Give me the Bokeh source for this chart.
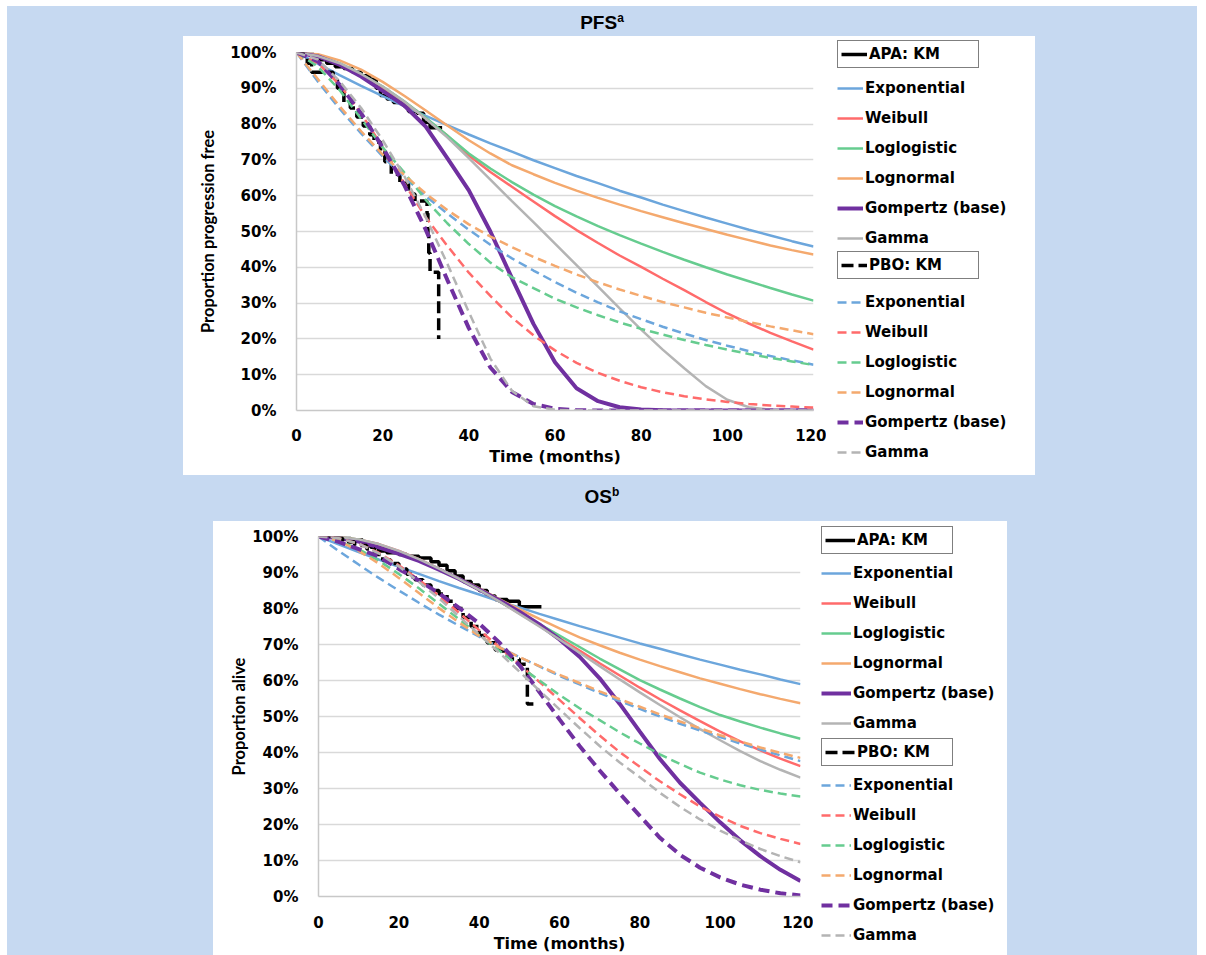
from bokeh.plotting import figure
from bokeh.models import (Legend, LegendItem, FixedTicker, PrintfTickFormatter,
                          Range1d, Div)
from bokeh.layouts import column, row
from bokeh.embed import file_html
from bokeh.resources import INLINE

# ---------------- data ----------------
months = [0, 5, 10, 15, 20, 25, 30, 35, 40, 45, 50, 55, 60, 65, 70, 75, 80, 85,
          90, 95, 100, 105, 110, 115, 120]
x_ticks = [0, 20, 40, 60, 80, 100, 120]
y_ticks = [0, 10, 20, 30, 40, 50, 60, 70, 80, 90, 100]

model_names = ["Exponential", "Weibull", "Loglogistic", "Lognormal", "Gompertz (base)", "Gamma"]

# PFS - apalutamide (APA) fitted curves, % progression free
pfs_apa_exp = [100, 96.8, 93.7, 90.7, 87.8, 85.0, 82.3, 79.7, 77.1, 74.6, 72.3, 69.9, 67.7,
               65.5, 63.5, 61.4, 59.5, 57.5, 55.7, 53.9, 52.2, 50.5, 48.9, 47.3, 45.8]
pfs_apa_weib = [100, 98.8, 96.6, 93.6, 90.0, 86.2, 81.6, 76.8, 71.2, 66.6, 62.5, 58.4, 54.3,
                50.4, 46.8, 43.3, 40.1, 36.8, 33.6, 30.3, 27.1, 24.3, 21.7, 19.3, 17.0]
pfs_apa_llog = [100, 99.0, 97.0, 94.0, 90.5, 86.4, 81.8, 76.8, 71.8, 67.6, 63.8, 60.3, 57.1,
                54.2, 51.5, 49.0, 46.6, 44.3, 42.1, 40.0, 38.0, 36.1, 34.2, 32.4, 30.7]
pfs_apa_lnorm = [100, 99.5, 97.8, 95.2, 91.8, 87.9, 83.8, 79.6, 75.5, 71.8, 68.5, 66.0, 63.6,
                 61.4, 59.4, 57.5, 55.7, 54.0, 52.3, 50.7, 49.1, 47.6, 46.1, 44.8, 43.6]
pfs_apa_gomp = [100, 98.9, 96.6, 93.3, 89.3, 85.2, 79.3, 70.5, 61.5, 50.0, 37.0, 24.2, 13.5,
                6.2, 2.6, 0.9, 0.3, 0.1, 0, 0, 0, 0, 0, 0, 0]
pfs_apa_gamma = [100, 99.0, 97.0, 94.0, 90.5, 86.3, 81.5, 76.3, 70.5, 64.5, 58.5, 52.6, 46.6,
                 40.6, 34.6, 28.5, 22.6, 17.0, 11.8, 6.8, 3.0, 0.9, 0.2, 0, 0]

# PFS - placebo (PBO) fitted curves
pfs_pbo_exp = [100, 91.8, 84.3, 77.4, 71.0, 65.2, 59.9, 55.0, 50.5, 46.3, 42.5, 39.1, 35.9,
               32.9, 30.2, 27.7, 25.5, 23.4, 21.5, 19.7, 18.1, 16.6, 15.2, 14.0, 12.8]
pfs_pbo_weib = [100, 97.0, 91.0, 83.0, 73.5, 63.5, 54.0, 46.0, 38.5, 32.0, 26.0, 21.0, 16.8,
                13.3, 10.5, 8.3, 6.5, 5.1, 4.0, 3.1, 2.4, 1.8, 1.4, 1.1, 0.8]
pfs_pbo_llog = [100, 96.0, 89.5, 81.5, 73.5, 66.5, 58.8, 52.3, 46.5, 41.3, 37.2, 34.2, 31.2,
                28.8, 26.6, 24.6, 22.8, 21.2, 19.7, 18.3, 17.0, 15.8, 14.7, 13.7, 12.7]
pfs_pbo_lnorm = [100, 92.5, 85.0, 78.0, 71.5, 65.8, 60.6, 56.0, 52.0, 48.6, 45.6, 42.9, 40.4,
                 38.0, 35.8, 33.8, 32.0, 30.3, 28.8, 27.3, 26.0, 24.7, 23.5, 22.4, 21.3]
pfs_pbo_gomp = [100, 97.5, 91.0, 83.0, 73.5, 63.0, 50.5, 36.5, 23.0, 12.0, 5.2, 1.8, 0.5,
                0.1, 0, 0, 0, 0, 0, 0, 0, 0, 0, 0, 0]
pfs_pbo_gamma = [100, 98.0, 92.0, 84.5, 75.5, 65.5, 54.0, 41.0, 27.5, 14.5, 5.5, 1.2, 0.2,
                 0, 0, 0, 0, 0, 0, 0, 0, 0, 0, 0, 0]

# PFS Kaplan-Meier
pfs_apa_km_t = [0, 2, 4, 5.5, 7, 9, 11, 13, 15, 17, 18.5, 19.5, 21, 22.5, 25, 26, 28, 29.5, 31, 33.8]
pfs_apa_km_s = [100, 99.5, 99, 98, 97, 96, 95.5, 94.5, 93.5, 92.5, 90, 88, 87, 86, 85, 83.5,
                83, 80.5, 79, 79]
pfs_pbo_km_t = [0, 1.5, 2.5, 3.5, 8.5, 9.5, 11, 12.5, 14, 15.5, 17, 18, 19.5, 20.5, 22, 24,
                26, 27.5, 30.3, 30.5, 30.7, 31, 33]
pfs_pbo_km_s = [100, 98.5, 97, 94.5, 92.5, 90, 86, 84.5, 82, 79.5, 77, 75, 72, 69.5, 66,
                63.5, 60.5, 58.5, 55, 49, 44, 38.6, 20]

# OS - APA fitted curves, % alive
os_apa_exp = [100, 97.8, 95.7, 93.6, 91.6, 89.6, 87.6, 85.7, 83.9, 82.0, 80.3, 78.5, 76.8,
              75.1, 73.5, 71.9, 70.3, 68.8, 67.3, 65.8, 64.4, 63.0, 61.7, 60.3, 59.0]
os_apa_weib = [100, 99.8, 99.2, 97.9, 96.0, 93.7, 91.1, 88.2, 85.2, 82.0, 78.6, 75.2, 71.8,
               68.3, 64.8, 61.4, 58.0, 54.8, 51.7, 48.7, 45.8, 43.1, 40.6, 38.3, 36.2]
os_apa_llog = [100, 99.8, 99.2, 97.8, 95.8, 93.5, 91.0, 88.2, 85.2, 82.0, 78.8, 75.7, 72.5,
               69.3, 66.1, 63.1, 60.1, 57.5, 55.0, 52.6, 50.4, 48.6, 46.9, 45.3, 43.8]
os_apa_lnorm = [100, 99.8, 99.0, 97.5, 95.5, 93.3, 91.0, 88.4, 85.6, 82.6, 79.8, 77.1, 74.5,
                72.0, 69.8, 67.7, 65.8, 64.0, 62.3, 60.6, 59.1, 57.6, 56.2, 54.9, 53.7]
os_apa_gomp = [100, 99.6, 98.6, 97.0, 95.2, 93.2, 90.8, 88.2, 85.3, 82.3, 79.1, 75.6, 71.4,
               66.6, 60.6, 53.5, 45.8, 38.2, 31.6, 26.0, 20.6, 15.6, 11.2, 7.4, 4.3]
os_apa_gamma = [100, 99.8, 99.2, 97.9, 96.0, 93.7, 91.1, 88.2, 85.2, 82.0, 78.5, 75.0, 71.4,
                67.7, 64.0, 60.3, 56.7, 53.2, 49.8, 46.5, 43.4, 40.4, 37.6, 35.2, 33.0]

# OS - PBO fitted curves
os_pbo_exp = [100, 96.0, 92.2, 88.5, 85.0, 81.6, 78.3, 75.2, 72.2, 69.3, 66.5, 63.9, 61.3,
              58.9, 56.5, 54.3, 52.1, 50.0, 48.0, 46.1, 44.3, 42.5, 40.8, 39.2, 37.6]
os_pbo_weib = [100, 99.5, 98.0, 95.5, 92.0, 88.0, 83.5, 78.8, 74.0, 69.3, 64.5, 59.6, 54.6,
               49.6, 44.7, 40.1, 36.0, 32.0, 28.4, 25.0, 22.2, 19.6, 17.6, 16.0, 14.6]
os_pbo_llog = [100, 98.8, 96.5, 93.3, 89.6, 85.6, 81.3, 77.0, 72.6, 68.3, 64.0, 60.0, 56.0,
               52.3, 49.0, 45.6, 42.5, 39.5, 36.8, 34.4, 32.5, 30.9, 29.6, 28.6, 27.8]
os_pbo_lnorm = [100, 98.8, 96.0, 92.5, 88.5, 84.3, 80.1, 76.1, 72.4, 69.2, 66.5, 64.0, 61.6,
                59.3, 57.0, 54.8, 52.7, 50.6, 48.6, 46.7, 44.8, 43.1, 41.4, 39.9, 38.5]
os_pbo_gomp = [100, 98.5, 96.5, 94.5, 91.0, 87.8, 84.2, 80.2, 75.8, 70.6, 64.3, 56.8, 49.2,
               41.8, 35.0, 28.6, 22.4, 16.3, 11.6, 8.0, 5.3, 3.3, 1.9, 0.9, 0.3]
os_pbo_gamma = [100, 99.5, 98.0, 95.3, 91.7, 87.4, 82.8, 77.8, 72.8, 67.7, 62.5, 57.2, 52.0,
                46.8, 41.8, 37.2, 33.1, 28.8, 24.9, 21.4, 18.3, 15.6, 13.2, 11.2, 9.5]

# OS Kaplan-Meier
os_apa_km_t = [0, 5, 8, 11, 13, 15, 17, 20, 22, 25, 28, 30, 32, 34, 36, 38, 40, 42, 44, 47, 50, 55.5]
os_apa_km_s = [100, 99.5, 99, 98, 97, 96, 95.5, 95, 94.5, 94, 93, 92, 90.5, 89, 87.5, 86.5,
               85, 83.5, 82.5, 82, 80.5, 80.5]
os_pbo_km_t = [0, 3, 6, 9, 12, 14, 16, 18, 20, 22, 24, 26, 28, 30, 32, 34, 36, 38, 40, 42,
               44, 46, 48, 50, 52, 53.5]
os_pbo_km_s = [100, 99.5, 98.5, 97.5, 96.5, 95, 93.5, 92.5, 91, 89.5, 88, 86.5, 85, 84, 82,
               80, 77.5, 75, 72.5, 70.5, 68.5, 67, 66, 64.5, 53.5, 53.5]

# ---------------- styling ----------------
COLORS = ["#6CA6DC", "#FF6B6B", "#66CC8F", "#F4A96E", "#7030A0", "#B4B4B4"]
BG = "#C6D9F1"
TICK_FONT = "DejaVu Sans"

KM_W = 3.5
KM_DASH = "12 5"
FIT_W = 2.5
GOMP_W = 4
FIT_DASH = "9 5"
GOMP_DASH = "11 6"


def add_series(p, apa_fits, pbo_fits, apa_km, pbo_km):
    r_apa_km = p.step(apa_km[0], apa_km[1], mode="after", line_color="black", line_width=KM_W)
    apa_r = []
    for vals, c, name in zip(apa_fits, COLORS, model_names):
        w = GOMP_W if name.startswith("Gompertz") else FIT_W
        apa_r.append(p.line(months, vals, line_color=c, line_width=w))
    r_pbo_km = p.step(pbo_km[0], pbo_km[1], mode="after", line_color="black",
                      line_width=KM_W, line_dash=KM_DASH)
    pbo_r = []
    for vals, c, name in zip(pbo_fits, COLORS, model_names):
        if name.startswith("Gompertz"):
            pbo_r.append(p.line(months, vals, line_color=c, line_width=GOMP_W,
                                line_dash=GOMP_DASH))
        else:
            pbo_r.append(p.line(months, vals, line_color=c, line_width=FIT_W,
                                line_dash=FIT_DASH))
    return r_apa_km, apa_r, r_pbo_km, pbo_r


def make_chart(series, ylabel, W, H, bt, bb, ylab_standoff, xlab_standoff, tick_standoff):
    p = figure(width=W, height=H, x_range=Range1d(0, 120), y_range=Range1d(0, 100),
               output_backend="svg", toolbar_location=None,
               min_border_left=105, min_border_right=13, min_border_top=bt,
               min_border_bottom=bb)
    p.frame_align = False
    p.outline_line_color = None
    p.background_fill_color = "white"
    p.border_fill_color = "white"
    p.xgrid.visible = False
    p.ygrid.grid_line_color = "#D9D9D9"
    p.ygrid.grid_line_width = 1.5
    p.xaxis.ticker = FixedTicker(ticks=x_ticks)
    p.yaxis.ticker = FixedTicker(ticks=y_ticks)
    p.yaxis.formatter = PrintfTickFormatter(format="%d%%")
    for ax in (p.xaxis[0], p.yaxis[0]):
        ax.axis_line_color = "#C8C8C8"
        ax.axis_line_width = 1.5
        ax.major_tick_line_color = None
        ax.minor_tick_line_color = None
        ax.major_tick_out = 0
        ax.major_tick_in = 0
        ax.minor_tick_out = 0
        ax.major_label_text_font = TICK_FONT
        ax.major_label_text_font_style = "bold"
        ax.major_label_text_font_size = "15px"
        ax.major_label_text_color = "black"
        ax.axis_label_text_font_style = "bold"
        ax.axis_label_text_color = "black"
    p.yaxis.major_label_standoff = 20
    p.xaxis.major_label_standoff = tick_standoff
    p.xaxis.axis_label = "Time (months)"
    p.xaxis.axis_label_text_font = TICK_FONT
    p.xaxis.axis_label_text_font_size = "16px"
    p.xaxis.axis_label_standoff = xlab_standoff
    p.yaxis.axis_label = ylabel
    p.yaxis.axis_label_text_font = "Lato"
    p.yaxis.axis_label_text_font_size = "16.5px"
    p.yaxis.axis_label_standoff = ylab_standoff
    add_series(p, *series)
    return p


def make_legend_panel(series, W, H, leg):
    """Legend area to the right of a chart. The same series are drawn here only
    to provide legend samples; the view range excludes them, so only the legend shows."""
    q = figure(width=W, height=H, x_range=Range1d(-20, -10), y_range=Range1d(-20, -10),
               output_backend="svg", toolbar_location=None,
               x_axis_location=None, y_axis_location=None, min_border=0)
    q.frame_align = False
    q.outline_line_color = None
    q.background_fill_alpha = 0
    q.border_fill_color = "white"
    q.grid.visible = False
    r_apa_km, apa_r, r_pbo_km, pbo_r = add_series(q, *series)
    common = dict(label_text_font=TICK_FONT, label_text_font_style="bold",
                  label_text_font_size="15px", label_text_color="black",
                  glyph_width=leg["gw"], glyph_height=20, label_height=20,
                  label_standoff=2, padding=3, margin=0, label_width=leg["lw"])
    l1 = Legend(items=[LegendItem(label="APA: KM", renderers=[r_apa_km])],
                location=(leg["x"], leg["y1"]), border_line_color="black",
                border_line_width=1.5, background_fill_color="white", **common)
    l2 = Legend(items=[LegendItem(label=n, renderers=[r]) for n, r in zip(model_names, apa_r)],
                location=(leg["x"], leg["y2"]), border_line_color=None,
                background_fill_alpha=0, spacing=leg["sp2"], **common)
    l3 = Legend(items=[LegendItem(label="PBO: KM", renderers=[r_pbo_km])],
                location=(leg["x"], leg["y3"]), border_line_color="black",
                border_line_width=1.5, background_fill_color="white", **common)
    l4 = Legend(items=[LegendItem(label=n, renderers=[r]) for n, r in zip(model_names, pbo_r)],
                location=(leg["x"], leg["y4"]), border_line_color=None,
                background_fill_alpha=0, spacing=leg["sp4"], **common)
    for lg in (l1, l2, l3, l4):
        q.add_layout(lg, "center")
    return q


pfs_series = ([pfs_apa_exp, pfs_apa_weib, pfs_apa_llog, pfs_apa_lnorm, pfs_apa_gomp, pfs_apa_gamma],
              [pfs_pbo_exp, pfs_pbo_weib, pfs_pbo_llog, pfs_pbo_lnorm, pfs_pbo_gomp, pfs_pbo_gamma],
              (pfs_apa_km_t, pfs_apa_km_s), (pfs_pbo_km_t, pfs_pbo_km_s))
os_series = ([os_apa_exp, os_apa_weib, os_apa_llog, os_apa_lnorm, os_apa_gomp, os_apa_gamma],
             [os_pbo_exp, os_pbo_weib, os_pbo_llog, os_pbo_lnorm, os_pbo_gomp, os_pbo_gamma],
             (os_apa_km_t, os_apa_km_s), (os_pbo_km_t, os_pbo_km_s))

pfs = make_chart(pfs_series, "Proportion progression free",
                 W=635, H=439, bt=16, bb=65, ylab_standoff=9, xlab_standoff=3, tick_standoff=18)
pfs_leg = make_legend_panel(pfs_series, 209, 439,
                            dict(x=11, y1=407, y2=227, y3=196, y4=13,
                                 sp2=10, sp4=10, gw=26, lw=106))
pfs_pad = Div(text="", width=8, height=439, margin=(0, 0, 0, 0),
              styles={"background-color": "white"})
pfs_row = row(pfs_pad, pfs, pfs_leg, styles={"background-color": "white"})
pfs_row.margin = (0, 0, 0, 176)

os_fig = make_chart(os_series, "Proportion alive",
                    W=600, H=434, bt=15, bb=59, ylab_standoff=0, xlab_standoff=3,
                    tick_standoff=19)
os_leg = make_legend_panel(os_series, 194, 434,
                           dict(x=8, y1=401, y2=222, y3=189, y4=10,
                                sp2=10, sp4=10, gw=30, lw=92))
os_row = row(os_fig, os_leg, styles={"background-color": "white"})
os_row.margin = (0, 0, 0, 206)

title_style = {"font-family": "'Liberation Sans Narrow', 'Liberation Sans', Arial, sans-serif",
               "font-weight": "bold", "font-size": "19px", "text-align": "center",
               "color": "black"}
t1 = Div(text='PFS<sup style="font-size:12px">a</sup>', width=1190, height=30,
         margin=(0, 0, 0, 0), styles=dict(title_style, **{"line-height": "24px"}))
t2 = Div(text='OS<sup style="font-size:12px">b</sup>', width=1190, height=46,
         margin=(0, 0, 0, 0), styles=dict(title_style, **{"line-height": "35px"}))

root = column(t1, pfs_row, t2, os_row, styles={"background-color": BG}, width=1190, height=949)
root.margin = (6, 0, 0, 7)

open("out.html", "w").write(file_html(root, INLINE))
